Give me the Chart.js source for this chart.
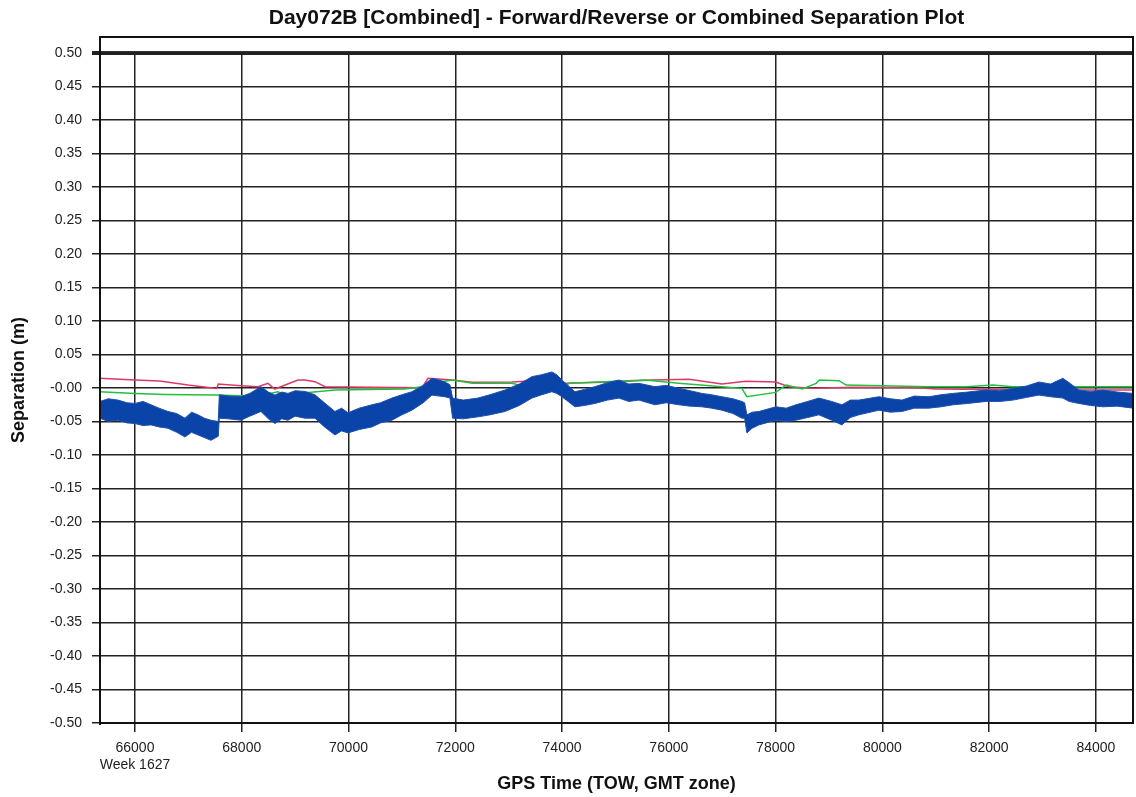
<!DOCTYPE html>
<html>
<head>
<meta charset="utf-8">
<title>Separation Plot</title>
<script src="https://cdn.jsdelivr.net/npm/chart.js@4.4.0/dist/chart.umd.min.js"></script>
<style>
  body { margin: 0; background: #fff; }
  #wrap { width: 1136px; height: 797px; }
</style>
</head>
<body>
<div id="wrap"><canvas id="sepChart"></canvas></div>
<script>
// --- DADOS ---
const chartTitle = 'Day072B [Combined] - Forward/Reverse or Combined Separation Plot';

// Série azul (ruidosa): envelope superior e inferior
const blueTime = [65345, 65500, 65682, 65850, 66000, 66150, 66300, 66450, 66618, 66780, 66937, 67060, 67180, 67300, 67423, 67560, 67580, 67750, 67985, 68150, 68360, 68500, 68622, 68750, 68866, 69000, 69184, 69371, 69550, 69746, 69870, 69990, 70200, 70439, 70600, 70814, 71000, 71188, 71400, 71563, 71700, 71806, 71900, 71950, 72150, 72424, 72650, 72930, 73200, 73436, 73620, 73810, 73900, 73998, 74241, 74420, 74616, 74850, 75065, 75250, 75440, 75740, 75950, 76189, 76400, 76620, 76800, 76995, 77200, 77369, 77420, 77463, 77560, 77688, 78006, 78200, 78381, 78600, 78811, 79050, 79242, 79400, 79561, 79935, 80150, 80366, 80600, 80872, 81100, 81321, 81600, 81939, 82200, 82445, 82700, 82932, 83150, 83381, 83500, 83681, 83900, 84131, 84400, 84695];
const blueHi = [-0.020, -0.016, -0.018, -0.022, -0.023, -0.020, -0.025, -0.030, -0.035, -0.038, -0.045, -0.036, -0.040, -0.045, -0.048, -0.050, -0.010, -0.012, -0.013, -0.008, 0.002, -0.006, -0.0105, -0.006, -0.008, -0.004, -0.005, -0.010, -0.022, -0.035, -0.030, -0.037, -0.030, -0.025, -0.022, -0.015, -0.010, -0.0055, 0.004, 0.0145, 0.012, 0.009, 0.005, -0.015, -0.018, -0.015, -0.010, -0.003, 0.006, 0.017, 0.020, 0.024, 0.020, 0.012, -0.0055, -0.002, 0.002, 0.008, 0.012, 0.006, 0.007, 0.002, 0.004, -0.0005, -0.004, -0.008, -0.010, -0.013, -0.016, -0.020, -0.022, -0.040, -0.036, -0.035, -0.028, -0.030, -0.025, -0.020, -0.015, -0.020, -0.025, -0.018, -0.018, -0.013, -0.016, -0.018, -0.012, -0.013, -0.010, -0.008, -0.006, -0.003, -0.004, -0.0005, 0.003, 0.009, 0.006, 0.0145, 0.008, -0.003, -0.005, -0.003, -0.006, -0.008];
const blueLo = [-0.045, -0.050, -0.048, -0.052, -0.053, -0.056, -0.055, -0.058, -0.060, -0.066, -0.073, -0.066, -0.070, -0.074, -0.078, -0.072, -0.045, -0.046, -0.048, -0.042, -0.035, -0.046, -0.053, -0.046, -0.048, -0.042, -0.045, -0.045, -0.058, -0.070, -0.064, -0.067, -0.062, -0.058, -0.052, -0.048, -0.040, -0.033, -0.022, -0.0105, -0.012, -0.013, -0.015, -0.045, -0.046, -0.043, -0.040, -0.035, -0.026, -0.015, -0.010, -0.0055, -0.008, -0.013, -0.028, -0.026, -0.023, -0.018, -0.015, -0.020, -0.018, -0.025, -0.022, -0.025, -0.027, -0.028, -0.030, -0.033, -0.038, -0.045, -0.045, -0.067, -0.060, -0.055, -0.048, -0.050, -0.048, -0.044, -0.040, -0.048, -0.055, -0.044, -0.040, -0.033, -0.036, -0.035, -0.030, -0.030, -0.028, -0.025, -0.023, -0.020, -0.020, -0.018, -0.014, -0.0105, -0.013, -0.015, -0.020, -0.023, -0.026, -0.028, -0.027, -0.030];

// Série vermelha
const redTime = [65345, 66000, 66463, 66993, 67530, 67560, 67985, 68304, 68491, 68620, 69053, 69184, 69371, 69560, 71375, 71490, 71940, 72320, 73061, 73300, 73440, 74060, 74940, 75690, 76380, 76995, 77440, 78000, 78250, 78750, 79420, 80680, 81000, 83306, 84695];
const redVal = [0.0145, 0.012, 0.0105, 0.0045, -0.0005, 0.006, 0.0035, 0.002, 0.007, -0.0015, 0.012, 0.012, 0.0095, 0.002, 0.0005, 0.0145, 0.012, 0.0085, 0.009, 0.010, 0.007, 0.007, 0.009, 0.012, 0.013, 0.006, 0.010, 0.009, 0.002, -0.0005, 0.001, 0.0005, -0.0015, -0.003, -0.003];

// Série verde
const greenTime = [65345, 66000, 66562, 67520, 67985, 68435, 68680, 68870, 69200, 69750, 71057, 71375, 71680, 71940, 72320, 73061, 73567, 73998, 74130, 75560, 76190, 76995, 77370, 77460, 78000, 78200, 78500, 78760, 78820, 79190, 79320, 80870, 81565, 82070, 82440, 84695];
const greenVal = [-0.0055, -0.008, -0.0095, -0.0105, -0.0115, -0.0095, -0.0055, -0.013, -0.007, -0.003, -0.0015, 0.002, 0.0085, 0.012, 0.007, 0.007, -0.003, -0.0005, 0.007, 0.012, 0.007, 0.002, -0.0005, -0.013, -0.0065, 0.0045, -0.0015, 0.007, 0.012, 0.011, 0.0045, 0.002, 0.002, 0.0045, 0.002, 0.002];

// Eixos
const xTicks = [66000, 68000, 70000, 72000, 74000, 76000, 78000, 80000, 82000, 84000];
const yTicks = [0.50, 0.45, 0.40, 0.35, 0.30, 0.25, 0.20, 0.15, 0.10, 0.05, 0.00, -0.05, -0.10, -0.15, -0.20, -0.25, -0.30, -0.35, -0.40, -0.45, -0.50];
const weekLabel = 'Week 1627';

const toPoints = (xs, ys) => xs.map((x, i) => ({ x: x, y: ys[i] }));

document.addEventListener('DOMContentLoaded', () => {

    // Moldura, título centrado na área do gráfico e faixa branca acima da linha 0.50
    const framePlugin = {
        id: 'frame',
        beforeDatasetsDraw(chart) {
            const { ctx, chartArea } = chart;
            const y50 = chart.scales.y.getPixelForValue(0.5);
            ctx.save();
            ctx.fillStyle = '#fff';
            ctx.fillRect(chartArea.left + 1, chartArea.top, chartArea.right - chartArea.left - 2, y50 - chartArea.top - 2);
            ctx.restore();
        },
        afterDraw(chart) {
            const { ctx, chartArea } = chart;
            ctx.save();
            ctx.strokeStyle = '#111';
            ctx.lineWidth = 2;
            ctx.strokeRect(chartArea.left, chartArea.top, chartArea.right - chartArea.left, chartArea.bottom - chartArea.top);
            ctx.fillStyle = '#111';
            ctx.font = 'bold 21px "Liberation Sans", Arial, sans-serif';
            ctx.textAlign = 'center';
            ctx.textBaseline = 'middle';
            ctx.fillText(chartTitle, (chartArea.left + chartArea.right) / 2, 18);
            ctx.restore();
        }
    };

    function createSeparationChart() {
        const ctx = document.getElementById('sepChart')?.getContext('2d');
        if (!ctx) return;

        Chart.defaults.font.family = '"Liberation Sans", Arial, Helvetica, sans-serif';
        Chart.defaults.color = '#222';

        new Chart(ctx, {
            type: 'line',
            data: {
                datasets: [
                    {
                        label: 'combined hi',
                        data: toPoints(blueTime, blueHi),
                        borderColor: '#1d4fae',
                        borderWidth: 1,
                        pointRadius: 0,
                        fill: false,
                        order: 0
                    },
                    {
                        label: 'combined lo',
                        data: toPoints(blueTime, blueLo),
                        borderColor: '#1d4fae',
                        backgroundColor: '#0b44a8',
                        borderWidth: 1,
                        pointRadius: 0,
                        fill: '-1',
                        order: 1
                    },
                    {
                        label: 'forward',
                        data: toPoints(redTime, redVal),
                        borderColor: '#dc3a64',
                        borderWidth: 1.5,
                        pointRadius: 0,
                        fill: false,
                        order: 3
                    },
                    {
                        label: 'reverse',
                        data: toPoints(greenTime, greenVal),
                        borderColor: '#22c040',
                        borderWidth: 1.5,
                        pointRadius: 0,
                        fill: false,
                        order: 2
                    }
                ]
            },
            options: {
                responsive: true,
                maintainAspectRatio: false,
                animation: false,
                layout: { padding: { left: 0, right: 3, top: 37, bottom: 0 } },
                plugins: {
                    legend: { display: false },
                    tooltip: { enabled: false },
                    title: { display: false }
                },
                scales: {
                    x: {
                        type: 'linear',
                        min: 65345,
                        max: 84695,
                        afterBuildTicks: (scale) => { scale.ticks = xTicks.map(v => ({ value: v })); },
                        afterFit: (scale) => { scale.height = 74; },
                        ticks: {
                            font: { size: 14 },
                            padding: 8,
                            maxRotation: 0,
                            callback: (v) => v === xTicks[0] ? [String(v), weekLabel] : String(v)
                        },
                        grid: { color: '#222', lineWidth: 1.5, tickLength: 9 },
                        border: { color: '#111', width: 2 },
                        title: {
                            display: true,
                            text: 'GPS Time (TOW, GMT zone)',
                            font: { size: 18, weight: 'bold' },
                            color: '#111',
                            padding: { top: 1, bottom: 2 }
                        }
                    },
                    y: {
                        min: -0.5,
                        max: 0.524,
                        afterBuildTicks: (scale) => { scale.ticks = yTicks.map(v => ({ value: v })); },
                        afterFit: (scale) => { scale.width = 100; },
                        ticks: {
                            font: { size: 14 },
                            padding: 10,
                            callback: (v) => Math.abs(v) < 1e-9 ? '-0.00' : v.toFixed(2)
                        },
                        grid: {
                            color: '#222',
                            lineWidth: (c) => (c.tick && Math.abs(c.tick.value - 0.5) < 1e-9) ? 4 : 1.5,
                            tickLength: 8
                        },
                        border: { color: '#111', width: 2 },
                        title: {
                            display: true,
                            text: 'Separation (m)',
                            font: { size: 18, weight: 'bold' },
                            color: '#111',
                            padding: { top: 8, bottom: 0 }
                        }
                    }
                }
            },
            plugins: [framePlugin]
        });
    }

    // --- INICIALIZAÇÃO ---
    createSeparationChart();
});
</script>
</body>
</html>
